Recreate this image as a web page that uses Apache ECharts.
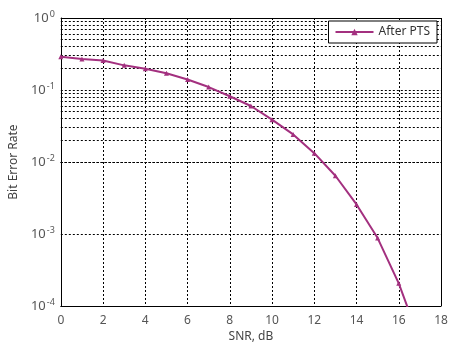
<!DOCTYPE html>
<html>
<head>
<meta charset="utf-8">
<script src="https://cdn.jsdelivr.net/npm/echarts@6/dist/echarts.min.js"></script>
<style>html,body{margin:0;padding:0;background:#fff;}#c{width:457px;height:348px;}</style>
</head>
<body>
<div id="c"></div>
<script>
var snr = [0,1,2,3,4,5,6,7,8,9,10,11,12,13,14,15,16,17];
var berAfterPTS = [0.29,0.27,0.257,0.22,0.198,0.171,0.14,0.11,0.082,0.06,0.0388,0.0242,0.0133,0.00645,0.00258,0.00088,0.000207,0.000033];
var seriesName = 'After PTS';
var xTicks = [0,2,4,6,8,10,12,14,16,18];
var decades = [-4,-3,-2,-1,0];
var minorMultipliers = [2,3,4,5,6,7,8,9];

var minorLines = [];
decades.slice(0,4).forEach(function(d){
  minorMultipliers.forEach(function(m){ minorLines.push({yAxis: m*Math.pow(10,d)}); });
});

var font = 'Noto Sans';
var gridDash = [2,2];
var chart = echarts.init(document.getElementById('c'), null, {renderer:'canvas'});
chart.setOption({
  animation:false,
  backgroundColor:'#fff',
  grid:{left:51,right:16,top:18,bottom:38,containLabel:false,show:false},
  legend:{
    data:[seriesName], right:20, top:21, z:50,
    backgroundColor:'#fff', borderColor:'#000', borderWidth:1, borderRadius:0,
    padding:[5,7,5,6], itemWidth:38, itemHeight:8, itemGap:4,
    textStyle:{fontFamily:font,fontSize:12,color:'#333'}
  },
  xAxis:{
    type:'value', min:0, max:18, interval:2,
    name:'SNR, dB', nameLocation:'middle', nameGap:22,
    nameTextStyle:{fontFamily:font,fontSize:12,color:'#444'},
    axisLine:{show:true,onZero:false,lineStyle:{color:'#000',width:1}},
    axisTick:{show:false},
    axisLabel:{fontFamily:font,fontSize:12,color:'#555',margin:8},
    splitLine:{show:true,lineStyle:{color:'#000',type:gridDash,width:1}}
  },
  yAxis:{
    type:'log', min:1e-4, max:1, logBase:10,
    name:'Bit Error Rate', nameLocation:'middle', nameGap:36,
    nameTextStyle:{fontFamily:font,fontSize:12,color:'#444'},
    axisLine:{show:true,lineStyle:{color:'#000',width:1}},
    axisTick:{show:false},
    axisLabel:{
      margin:6,
      formatter:function(v){ var e=Math.round(Math.log10(v)); return '{b|10}{s|'+e+'}'; },
      rich:{
        b:{fontFamily:font,fontSize:13,color:'#555'},
        s:{fontFamily:font,fontSize:9,color:'#555',verticalAlign:'top',padding:[0,0,8,1]}
      }
    },
    splitLine:{show:true,lineStyle:{color:'#000',type:gridDash,width:1}}
  },
  series:[{
    name:seriesName, type:'line', data:snr.map(function(x,i){return [x,berAfterPTS[i]];}),
    symbol:'triangle', symbolSize:5, showSymbol:true, clip:true,
    lineStyle:{color:'#a3307f',width:2},
    itemStyle:{color:'#a3307f'},
    markLine:{
      silent:true, symbol:['none','none'], label:{show:false},
      lineStyle:{color:'#000',type:gridDash,width:1},
      data:minorLines, animation:false
    },
    z:5
  },{
    type:'line', data:[], z:6, markLine:{silent:true,symbol:['none','none'],label:{show:false},
      lineStyle:{color:'#000',type:'solid',width:1},
      data:[{yAxis:1},{xAxis:18}]}
  }]
});
</script>
</body>
</html>
